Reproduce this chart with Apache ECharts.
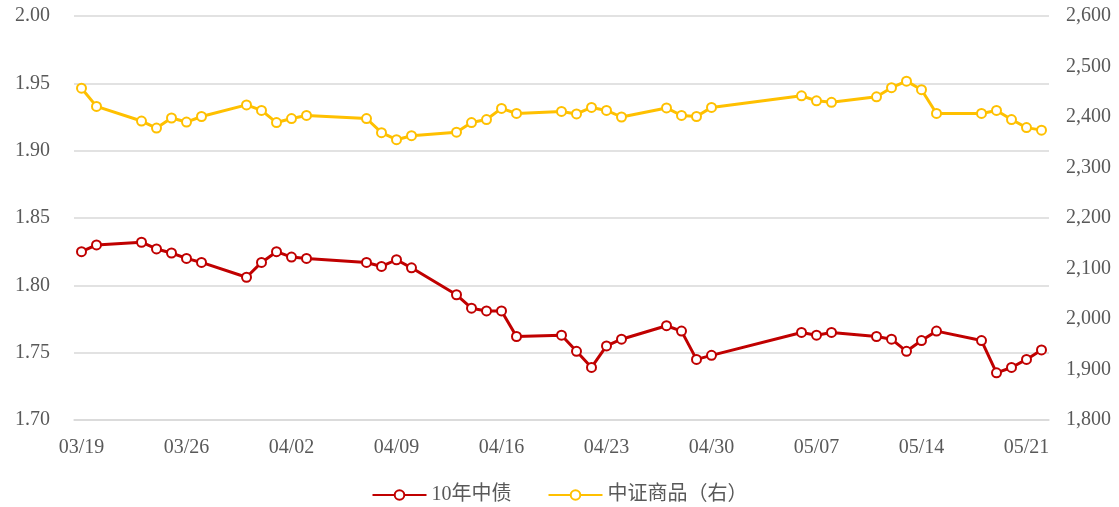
<!DOCTYPE html>
<html>
<head>
<meta charset="utf-8">
<script src="https://cdn.jsdelivr.net/npm/echarts@6/dist/echarts.min.js"></script>
<style>
  html, body { margin: 0; padding: 0; background: #fff; }
  #chart { width: 1119px; height: 507px; }
</style>
</head>
<body>
<div id="chart"></div>
<script>
// 交易日
var tradeDates = [
  '03/19', '03/20', '03/23', '03/24', '03/25', '03/26', '03/27', '03/30', '03/31',
  '04/01', '04/02', '04/03', '04/07', '04/08', '04/09', '04/10',
  '04/13', '04/14', '04/15', '04/16', '04/17', '04/20', '04/21', '04/22', '04/23', '04/24',
  '04/27', '04/28', '04/29', '04/30',
  '05/06', '05/07', '05/08', '05/11', '05/12', '05/13', '05/14', '05/15',
  '05/18', '05/19', '05/20', '05/21', '05/22'
]
// 10年中债 (左轴)
var bond10y = [
  1.825, 1.830, 1.832, 1.827, 1.824, 1.820, 1.817, 1.806, 1.817,
  1.825, 1.821, 1.820, 1.817, 1.814, 1.819, 1.813,
  1.793, 1.783, 1.781, 1.781, 1.762, 1.763, 1.751, 1.739, 1.755, 1.760,
  1.770, 1.766, 1.745, 1.748,
  1.765, 1.763, 1.765, 1.762, 1.760, 1.751, 1.759, 1.766,
  1.759, 1.735, 1.739, 1.745, 1.752
]
// 中证商品 (右轴)
var commodity = [
  2457, 2421, 2392, 2378, 2398, 2390, 2401, 2424, 2413,
  2389, 2397, 2403, 2397, 2369, 2355, 2363,
  2370, 2389, 2395, 2417, 2407, 2411, 2406, 2419, 2413, 2400,
  2418, 2403, 2401, 2419,
  2442, 2432, 2429, 2440, 2458, 2471, 2454, 2407,
  2407, 2413, 2395, 2379, 2374
]
var seriesNames = ['10年中债', '中证商品（右）']

// 横轴按自然日排列，非交易日留空
function pad(n) { return n < 10 ? '0' + n : '' + n }
var calendar = []
var d = new Date(2026, 2, 19)
var end = new Date(2026, 4, 22)
while (d <= end) {
  calendar.push(pad(d.getMonth() + 1) + '/' + pad(d.getDate()))
  d.setDate(d.getDate() + 1)
}
function fill(values) {
  var map = {}
  tradeDates.forEach(function (t, i) { map[t] = values[i] })
  return calendar.map(function (c) { return map[c] === undefined ? null : map[c] })
}

var font = '"Times New Roman", "Liberation Serif", "Noto Sans CJK SC", serif'
var chart = echarts.init(document.getElementById('chart'))
chart.setOption({
  animation: false,
  textStyle: { fontFamily: font },
  grid: { left: 74, right: 70, top: 16, bottom: 87 },
  legend: {
    bottom: -3,
    left: 'center',
    itemWidth: 54,
    itemHeight: 12,
    itemGap: 36,
    textStyle: { fontSize: 20, color: '#595959', fontFamily: font }
  },
  xAxis: {
    type: 'category',
    data: calendar,
    boundaryGap: true,
    axisLine: { lineStyle: { color: '#d9d9d9', width: 1.5 } },
    axisTick: { interval: 6, length: 5, lineStyle: { color: '#d9d9d9', width: 1.5 } },
    axisLabel: { interval: 6, margin: 18, fontSize: 20, color: '#595959' },
    splitLine: { show: false }
  },
  yAxis: [
    {
      type: 'value',
      min: 1.70,
      max: 2.00,
      interval: 0.05,
      axisLine: { show: false },
      axisTick: { show: false },
      axisLabel: {
        margin: 24, fontSize: 20, color: '#595959',
        formatter: function (v) { return v.toFixed(2) }
      },
      splitLine: { lineStyle: { color: '#d9d9d9', width: 1.5 } }
    },
    {
      type: 'value',
      min: 1800,
      max: 2600,
      interval: 100,
      axisLine: { show: false },
      axisTick: { show: false },
      axisLabel: {
        margin: 17, fontSize: 20, color: '#595959',
        formatter: function (v) { return v.toLocaleString('en-US') }
      },
      splitLine: { show: false }
    }
  ],
  series: [
    {
      name: seriesNames[0],
      type: 'line',
      yAxisIndex: 0,
      data: fill(bond10y),
      connectNulls: true,
      symbol: 'emptyCircle',
      symbolSize: 9,
      color: '#c00000',
      lineStyle: { width: 3, color: '#c00000' },
      itemStyle: { color: '#c00000', borderWidth: 2 }
    },
    {
      name: seriesNames[1],
      type: 'line',
      yAxisIndex: 1,
      data: fill(commodity),
      connectNulls: true,
      symbol: 'emptyCircle',
      symbolSize: 9,
      color: '#ffc000',
      lineStyle: { width: 3, color: '#ffc000' },
      itemStyle: { color: '#ffc000', borderWidth: 2 }
    }
  ]
})
</script>
</body>
</html>
